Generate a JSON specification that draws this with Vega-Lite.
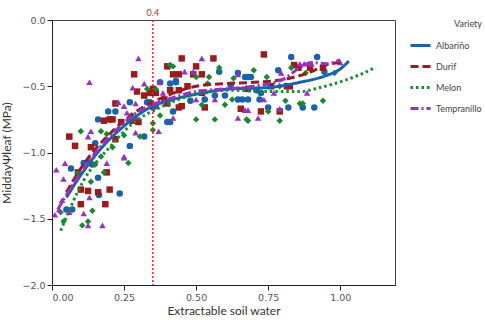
{
  "$schema": "https://vega.github.io/schema/vega-lite/v6.json",
  "width": 343,
  "height": 265,
  "autosize": "none",
  "padding": {"left": 52, "top": 20, "right": 90, "bottom": 35},
  "config": {
    "view": {"stroke": "#444", "strokeWidth": 1},
    "axis": {"grid": false, "domainColor": "#222", "tickColor": "#222", "labelColor": "#555", "titleColor": "#333", "labelFont": "DejaVu Sans", "labelFontSize": 9.5, "titleFont": "Lato", "titleFontSize": 12, "titleFontWeight": "normal"},
    "legend": {"labelFont": "Lato", "titleFont": "Lato", "labelFontSize": 9, "titleFontSize": 9, "titleFontWeight": "normal", "labelColor": "#444", "titleColor": "#444"}
  },
  "datasets": {
    "pts": [
      {"v":"Albariño","x":0.27,"y":-0.62},{"v":"Albariño","x":0.33,"y":-0.62},{"v":"Albariño","x":0.195,"y":-0.69},{"v":"Albariño","x":0.22,"y":-0.69},{"v":"Albariño","x":0.16,"y":-0.75},{"v":"Albariño","x":0.15,"y":-0.93},{"v":"Albariño","x":0.27,"y":-0.95},{"v":"Albariño","x":0.32,"y":-0.88},{"v":"Albariño","x":0.066,"y":-1.12},{"v":"Albariño","x":0.11,"y":-1.08},{"v":"Albariño","x":0.13,"y":-1.08},{"v":"Albariño","x":0.14,"y":-1.09},{"v":"Albariño","x":0.16,"y":-1.19},{"v":"Albariño","x":0.235,"y":-1.31},{"v":"Albariño","x":0.163,"y":-1.32},{"v":"Albariño","x":0.05,"y":-1.43},{"v":"Albariño","x":0.07,"y":-1.43},{"v":"Albariño","x":0.58,"y":-0.39},{"v":"Albariño","x":0.43,"y":-0.47},{"v":"Albariño","x":0.41,"y":-0.48},{"v":"Albariño","x":0.645,"y":-0.4},{"v":"Albariño","x":0.67,"y":-0.43},{"v":"Albariño","x":0.565,"y":-0.57},{"v":"Albariño","x":0.53,"y":-0.6},{"v":"Albariño","x":0.48,"y":-0.61},{"v":"Albariño","x":0.645,"y":-0.6},{"v":"Albariño","x":0.66,"y":-0.6},{"v":"Albariño","x":0.42,"y":-0.69},{"v":"Albariño","x":0.35,"y":-0.66},{"v":"Albariño","x":0.4,"y":-0.77},{"v":"Albariño","x":0.41,"y":-0.77},{"v":"Albariño","x":0.83,"y":-0.28},{"v":"Albariño","x":0.92,"y":-0.28},{"v":"Albariño","x":0.785,"y":-0.38},{"v":"Albariño","x":0.945,"y":-0.39},{"v":"Albariño","x":0.68,"y":-0.43},{"v":"Albariño","x":0.69,"y":-0.43},{"v":"Albariño","x":0.71,"y":-0.53},{"v":"Albariño","x":0.725,"y":-0.55},{"v":"Albariño","x":0.72,"y":-0.6},{"v":"Albariño","x":0.68,"y":-0.6},{"v":"Albariño","x":0.87,"y":-0.66},{"v":"Albariño","x":0.91,"y":-0.66},{"v":"Albariño","x":0.82,"y":-0.66},{"v":"Albariño","x":0.75,"y":-0.66},{"v":"Albariño","x":0.375,"y":-0.47},{"v":"Albariño","x":0.43,"y":-0.46},{"v":"Albariño","x":0.34,"y":-0.62},{"v":"Albariño","x":0.36,"y":-0.65},{"v":"Albariño","x":0.6,"y":-0.57},{"v":"Albariño","x":0.62,"y":-0.49},
      {"v":"Durif","x":0.285,"y":-0.41},{"v":"Durif","x":0.295,"y":-0.54},{"v":"Durif","x":0.32,"y":-0.57},{"v":"Durif","x":0.34,"y":-0.55},{"v":"Durif","x":0.22,"y":-0.63},{"v":"Durif","x":0.18,"y":-0.76},{"v":"Durif","x":0.2,"y":-0.75},{"v":"Durif","x":0.21,"y":-0.75},{"v":"Durif","x":0.24,"y":-0.77},{"v":"Durif","x":0.28,"y":-0.76},{"v":"Durif","x":0.3,"y":-0.77},{"v":"Durif","x":0.06,"y":-0.88},{"v":"Durif","x":0.22,"y":-0.9},{"v":"Durif","x":0.08,"y":-0.95},{"v":"Durif","x":0.135,"y":-0.96},{"v":"Durif","x":0.19,"y":-1.15},{"v":"Durif","x":0.1,"y":-1.28},{"v":"Durif","x":0.125,"y":-1.29},{"v":"Durif","x":0.16,"y":-1.3},{"v":"Durif","x":0.2,"y":-1.28},{"v":"Durif","x":0.185,"y":-1.39},{"v":"Durif","x":0.1,"y":-1.39},{"v":"Durif","x":0.09,"y":-1.15},{"v":"Durif","x":0.45,"y":-0.29},{"v":"Durif","x":0.56,"y":-0.29},{"v":"Durif","x":0.4,"y":-0.35},{"v":"Durif","x":0.5,"y":-0.35},{"v":"Durif","x":0.42,"y":-0.41},{"v":"Durif","x":0.44,"y":-0.41},{"v":"Durif","x":0.49,"y":-0.41},{"v":"Durif","x":0.52,"y":-0.41},{"v":"Durif","x":0.47,"y":-0.5},{"v":"Durif","x":0.41,"y":-0.53},{"v":"Durif","x":0.44,"y":-0.53},{"v":"Durif","x":0.52,"y":-0.55},{"v":"Durif","x":0.36,"y":-0.55},{"v":"Durif","x":0.4,"y":-0.63},{"v":"Durif","x":0.44,"y":-0.66},{"v":"Durif","x":0.45,"y":-0.65},{"v":"Durif","x":0.655,"y":-0.67},{"v":"Durif","x":0.53,"y":-0.66},{"v":"Durif","x":0.735,"y":-0.26},{"v":"Durif","x":0.84,"y":-0.34},{"v":"Durif","x":0.855,"y":-0.36},{"v":"Durif","x":0.895,"y":-0.36},{"v":"Durif","x":0.94,"y":-0.36},{"v":"Durif","x":0.76,"y":-0.5},{"v":"Durif","x":0.815,"y":-0.5},{"v":"Durif","x":0.825,"y":-0.5},{"v":"Durif","x":0.68,"y":-0.52},{"v":"Durif","x":0.725,"y":-0.69},{"v":"Durif","x":0.79,"y":-0.69},{"v":"Durif","x":0.39,"y":-0.6},{"v":"Durif","x":0.35,"y":-0.52},
      {"v":"Melon","x":0.275,"y":-0.72},{"v":"Melon","x":0.1,"y":-0.84},{"v":"Melon","x":0.17,"y":-0.84},{"v":"Melon","x":0.19,"y":-0.86},{"v":"Melon","x":0.21,"y":-0.96},{"v":"Melon","x":0.25,"y":-0.87},{"v":"Melon","x":0.305,"y":-0.88},{"v":"Melon","x":0.17,"y":-1.03},{"v":"Melon","x":0.09,"y":-1.15},{"v":"Melon","x":0.15,"y":-1.09},{"v":"Melon","x":0.265,"y":-1.08},{"v":"Melon","x":0.18,"y":-1.15},{"v":"Melon","x":0.135,"y":-1.22},{"v":"Melon","x":0.03,"y":-1.45},{"v":"Melon","x":0.14,"y":-1.44},{"v":"Melon","x":0.04,"y":-1.52},{"v":"Melon","x":0.125,"y":-1.52},{"v":"Melon","x":0.105,"y":-1.55},{"v":"Melon","x":0.41,"y":-0.34},{"v":"Melon","x":0.42,"y":-0.35},{"v":"Melon","x":0.58,"y":-0.36},{"v":"Melon","x":0.5,"y":-0.43},{"v":"Melon","x":0.545,"y":-0.43},{"v":"Melon","x":0.54,"y":-0.48},{"v":"Melon","x":0.52,"y":-0.64},{"v":"Melon","x":0.33,"y":-0.52},{"v":"Melon","x":0.36,"y":-0.52},{"v":"Melon","x":0.625,"y":-0.6},{"v":"Melon","x":0.6,"y":-0.64},{"v":"Melon","x":0.375,"y":-0.72},{"v":"Melon","x":0.5,"y":-0.75},{"v":"Melon","x":0.565,"y":-0.75},{"v":"Melon","x":0.675,"y":-0.75},{"v":"Melon","x":0.35,"y":-0.78},{"v":"Melon","x":0.35,"y":-0.83},{"v":"Melon","x":0.83,"y":-0.36},{"v":"Melon","x":0.7,"y":-0.38},{"v":"Melon","x":0.88,"y":-0.4},{"v":"Melon","x":0.98,"y":-0.4},{"v":"Melon","x":0.745,"y":-0.43},{"v":"Melon","x":0.79,"y":-0.5},{"v":"Melon","x":0.81,"y":-0.61},{"v":"Melon","x":0.86,"y":-0.63},{"v":"Melon","x":0.87,"y":-0.63},{"v":"Melon","x":0.94,"y":-0.61},{"v":"Melon","x":0.75,"y":-0.69},{"v":"Melon","x":0.68,"y":-0.76},{"v":"Melon","x":0.79,"y":-0.76},{"v":"Melon","x":0.63,"y":-0.44},
      {"v":"Tempranillo","x":0.3,"y":-0.29},{"v":"Tempranillo","x":0.13,"y":-0.47},{"v":"Tempranillo","x":0.32,"y":-0.48},{"v":"Tempranillo","x":0.28,"y":-0.51},{"v":"Tempranillo","x":0.23,"y":-0.62},{"v":"Tempranillo","x":0.29,"y":-0.63},{"v":"Tempranillo","x":0.25,"y":-0.65},{"v":"Tempranillo","x":0.26,"y":-0.7},{"v":"Tempranillo","x":0.29,"y":-0.73},{"v":"Tempranillo","x":0.135,"y":-0.84},{"v":"Tempranillo","x":0.125,"y":-0.88},{"v":"Tempranillo","x":0.29,"y":-0.85},{"v":"Tempranillo","x":0.25,"y":-1.03},{"v":"Tempranillo","x":0.045,"y":-1.08},{"v":"Tempranillo","x":0.015,"y":-1.13},{"v":"Tempranillo","x":0.04,"y":-1.2},{"v":"Tempranillo","x":0.19,"y":-1.08},{"v":"Tempranillo","x":0.25,"y":-1.04},{"v":"Tempranillo","x":0.13,"y":-1.34},{"v":"Tempranillo","x":0.035,"y":-1.36},{"v":"Tempranillo","x":0.025,"y":-1.43},{"v":"Tempranillo","x":0.06,"y":-1.45},{"v":"Tempranillo","x":0.11,"y":-1.46},{"v":"Tempranillo","x":0.125,"y":-1.55},{"v":"Tempranillo","x":0.175,"y":-1.55},{"v":"Tempranillo","x":0.01,"y":-1.47},{"v":"Tempranillo","x":0.52,"y":-0.29},{"v":"Tempranillo","x":0.46,"y":-0.39},{"v":"Tempranillo","x":0.49,"y":-0.39},{"v":"Tempranillo","x":0.385,"y":-0.55},{"v":"Tempranillo","x":0.53,"y":-0.54},{"v":"Tempranillo","x":0.5,"y":-0.6},{"v":"Tempranillo","x":0.565,"y":-0.6},{"v":"Tempranillo","x":0.67,"y":-0.68},{"v":"Tempranillo","x":0.42,"y":-0.74},{"v":"Tempranillo","x":0.645,"y":-0.74},{"v":"Tempranillo","x":0.37,"y":-0.84},{"v":"Tempranillo","x":0.645,"y":-0.41},{"v":"Tempranillo","x":0.86,"y":-0.33},{"v":"Tempranillo","x":0.875,"y":-0.33},{"v":"Tempranillo","x":0.9,"y":-0.33},{"v":"Tempranillo","x":0.795,"y":-0.4},{"v":"Tempranillo","x":1.0,"y":-0.32},{"v":"Tempranillo","x":0.77,"y":-0.55},{"v":"Tempranillo","x":0.885,"y":-0.55},{"v":"Tempranillo","x":0.735,"y":-0.6},{"v":"Tempranillo","x":0.79,"y":-0.67},{"v":"Tempranillo","x":0.68,"y":-0.68},{"v":"Tempranillo","x":0.715,"y":-0.74},{"v":"Tempranillo","x":0.375,"y":-0.47}
    ],
    "fits": [
      {"v":"Albariño","x":0.05,"y":-1.34},{"v":"Albariño","x":0.1,"y":-1.17},{"v":"Albariño","x":0.17,"y":-0.97},{"v":"Albariño","x":0.25,"y":-0.8},{"v":"Albariño","x":0.34,"y":-0.66},{"v":"Albariño","x":0.42,"y":-0.6},{"v":"Albariño","x":0.5,"y":-0.56},{"v":"Albariño","x":0.62,"y":-0.52},{"v":"Albariño","x":0.75,"y":-0.51},{"v":"Albariño","x":0.86,"y":-0.47},{"v":"Albariño","x":0.95,"y":-0.42},{"v":"Albariño","x":1.0,"y":-0.37},{"v":"Albariño","x":1.03,"y":-0.31},
      {"v":"Durif","x":0.05,"y":-1.3},{"v":"Durif","x":0.1,"y":-1.12},{"v":"Durif","x":0.2,"y":-0.86},{"v":"Durif","x":0.3,"y":-0.68},{"v":"Durif","x":0.4,"y":-0.57},{"v":"Durif","x":0.5,"y":-0.5},{"v":"Durif","x":0.6,"y":-0.48},{"v":"Durif","x":0.7,"y":-0.47},{"v":"Durif","x":0.8,"y":-0.45},{"v":"Durif","x":0.9,"y":-0.39},{"v":"Durif","x":0.95,"y":-0.34},{"v":"Durif","x":1.0,"y":-0.32},
      {"v":"Melon","x":0.03,"y":-1.59},{"v":"Melon","x":0.11,"y":-1.21},{"v":"Melon","x":0.2,"y":-0.96},{"v":"Melon","x":0.28,"y":-0.78},{"v":"Melon","x":0.375,"y":-0.66},{"v":"Melon","x":0.48,"y":-0.57},{"v":"Melon","x":0.62,"y":-0.53},{"v":"Melon","x":0.75,"y":-0.54},{"v":"Melon","x":0.86,"y":-0.54},{"v":"Melon","x":0.93,"y":-0.51},{"v":"Melon","x":0.98,"y":-0.48},{"v":"Melon","x":1.06,"y":-0.42},{"v":"Melon","x":1.12,"y":-0.36},
      {"v":"Tempranillo","x":0.02,"y":-1.43},{"v":"Tempranillo","x":0.1,"y":-1.15},{"v":"Tempranillo","x":0.2,"y":-0.88},{"v":"Tempranillo","x":0.3,"y":-0.69},{"v":"Tempranillo","x":0.4,"y":-0.6},{"v":"Tempranillo","x":0.5,"y":-0.54},{"v":"Tempranillo","x":0.6,"y":-0.52},{"v":"Tempranillo","x":0.7,"y":-0.5},{"v":"Tempranillo","x":0.8,"y":-0.45},{"v":"Tempranillo","x":0.86,"y":-0.36},{"v":"Tempranillo","x":0.9,"y":-0.32},{"v":"Tempranillo","x":0.95,"y":-0.33},{"v":"Tempranillo","x":1.0,"y":-0.3}
    ]
  },
  "encoding": {
    "x": {"field": "x", "type": "quantitative", "scale": {"domain": [0, 1.19], "nice": false}, "axis": {"values": [0, 0.25, 0.5, 0.75, 1.0], "format": ".2f", "title": "Extractable soil water", "titlePadding": 4}},
    "y": {"field": "y", "type": "quantitative", "scale": {"domain": [-2, 0], "nice": false}, "axis": {"values": [0, -0.5, -1, -1.5, -2], "format": ".1f", "title": "MiddayΨleaf (MPa)", "titlePadding": 8}},
    "color": {"field": "v", "type": "nominal", "title": "Variety", "scale": {"domain": ["Albariño", "Durif", "Melon", "Tempranillo"], "range": ["#1763AE", "#9C1A1A", "#188A2B", "#9A2FC6"]}, "legend": {"title": "Variety", "orient": "right", "offset": 14, "symbolType": "stroke", "symbolStrokeWidth": 3, "symbolSize": 400, "titleAnchor": "end", "rowPadding": 3}}
  },
  "layer": [
    {"data": {"name": "pts"}, "transform": [{"filter": "datum.v === 'Albariño'"}], "mark": {"type": "point", "shape": "circle", "filled": true, "opacity": 1, "size": 42}},
    {"data": {"name": "pts"}, "transform": [{"filter": "datum.v === 'Durif'"}], "mark": {"type": "point", "shape": "square", "filled": true, "opacity": 1, "size": 42}},
    {"data": {"name": "pts"}, "transform": [{"filter": "datum.v === 'Melon'"}], "mark": {"type": "point", "shape": "diamond", "filled": true, "opacity": 1, "size": 42}},
    {"data": {"name": "pts"}, "transform": [{"filter": "datum.v === 'Tempranillo'"}], "mark": {"type": "point", "shape": "triangle-up", "filled": true, "opacity": 1, "size": 42}},
    {
      "data": {"name": "fits"},
      "mark": {"type": "line", "interpolate": "monotone", "strokeWidth": 3},
      "encoding": {
        "strokeDash": {"field": "v", "type": "nominal", "title": "Variety", "scale": {"domain": ["Albariño", "Durif", "Melon", "Tempranillo"], "range": [[1, 0], [8, 4], [2.5, 3], [8, 3, 2, 3]]}, "legend": {"title": "Variety", "orient": "right", "offset": 14, "symbolType": "stroke", "symbolStrokeWidth": 3, "symbolSize": 400, "titleAnchor": "end", "rowPadding": 3}}
      }
    },
    {
      "data": {"values": [{"rx": 0.35, "ry": 0, "ry2": -2, "label": "0.4"}]},
      "mark": {"type": "rule", "color": "#E0241F", "strokeDash": [2, 2], "strokeWidth": 1.5},
      "encoding": {
        "x": {"field": "rx", "type": "quantitative"},
        "y": {"field": "ry", "type": "quantitative"},
        "y2": {"field": "ry2"},
        "color": {"value": "#E0241F"}
      }
    },
    {
      "data": {"values": [{"rx": 0.35, "ry": 0, "label": "0.4"}]},
      "mark": {"type": "text", "fontSize": 9, "font": "Lato", "baseline": "bottom", "dy": -2},
      "encoding": {
        "x": {"field": "rx", "type": "quantitative"},
        "y": {"field": "ry", "type": "quantitative"},
        "text": {"field": "label"},
        "color": {"value": "#C0302A"}
      }
    }
  ]
}
